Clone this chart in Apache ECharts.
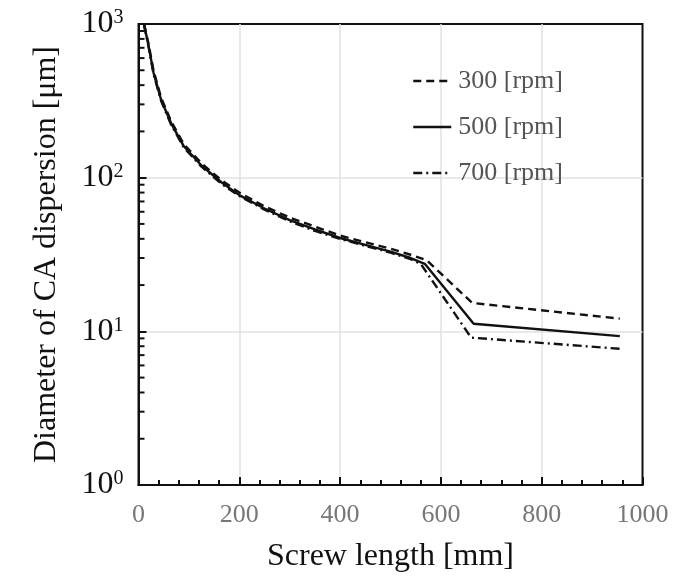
<!DOCTYPE html>
<html>
<head>
<meta charset="utf-8">
<script src="https://cdn.jsdelivr.net/npm/echarts@6/dist/echarts.min.js"></script>
<style>
  html, body { margin: 0; padding: 0; background: #fff; }
  #chart { width: 677px; height: 578px; }
</style>
</head>
<body>
<div id="chart"></div>
<script>
// screw length [mm] and CA diameter [um]
const x300 = [11, 20, 30, 45, 65, 90, 125, 165, 200, 250, 300, 350, 400, 450, 500, 540, 572, 662, 955]
const y300 = [1000, 740, 495, 330, 232, 165, 124, 96, 80, 65, 55, 48, 42, 38, 34.5, 31.5, 29, 15.3, 12.1]
const x500 = [11, 20, 30, 45, 65, 90, 125, 165, 200, 250, 300, 350, 400, 450, 500, 540, 568, 665, 955]
const y500 = [1000, 720, 480, 320, 225, 160, 120, 93, 77, 63, 53, 46, 40.5, 36.5, 33, 30, 27.5, 11.2, 9.3]
const x700 = [11, 20, 30, 45, 65, 90, 125, 165, 200, 250, 300, 350, 400, 450, 500, 540, 560, 660, 955]
const y700 = [980, 710, 470, 315, 220, 157, 118, 91, 76, 62, 52, 45, 40, 36, 32.5, 29.5, 27.5, 9.1, 7.7]

const seriesNames = ['300 [rpm]', '500 [rpm]', '700 [rpm]']
const yMinorTicks = [2, 3, 4, 5, 6, 7, 8, 9, 20, 30, 40, 50, 60, 70, 80, 90, 200, 300, 400, 500, 600, 700, 800, 900]

const font = 'Liberation Serif'
const zip = (xs, ys) => xs.map((x, i) => [x, ys[i]])

let myChart = echarts.init(document.getElementById('chart'))
let option = {
  animation: false,
  textStyle: { fontFamily: font },
  grid: {
    left: 138.5,
    right: 34.5,
    top: 24,
    bottom: 91,
    show: true,
    borderColor: '#111',
    borderWidth: 2
  },
  legend: {
    orient: 'vertical',
    left: 407,
    top: 63,
    itemWidth: 38,
    itemHeight: 14,
    itemGap: 20,
    data: seriesNames,
    itemStyle: { opacity: 0 },
    lineStyle: { width: 2.5 },
    textStyle: { fontFamily: font, fontSize: 26, color: '#555', padding: [0, 0, 0, 2] }
  },
  xAxis: {
    type: 'value',
    min: 0,
    max: 1000,
    interval: 200,
    name: 'Screw length [mm]',
    nameLocation: 'middle',
    nameGap: 56,
    nameTextStyle: { fontFamily: font, fontSize: 32, color: '#111' },
    axisLine: { lineStyle: { color: '#111', width: 2 } },
    axisTick: { inside: true, length: 8, lineStyle: { color: '#111', width: 2 } },
    minorTick: { show: true, splitNumber: 5, length: 5, lineStyle: { color: '#111', width: 2 } },
    axisLabel: {
      fontFamily: font, fontSize: 26, color: '#777', margin: 17,
      formatter: v => String(v)
    },
    splitLine: { show: true, showMinLine: false, showMaxLine: false, lineStyle: { color: '#e2e2e2', width: 1.5 } }
  },
  yAxis: {
    type: 'log',
    logBase: 10,
    min: 1,
    max: 1000,
    name: 'Diameter of CA dispersion [μm]',
    nameLocation: 'middle',
    nameGap: 76,
    nameTextStyle: { fontFamily: font, fontSize: 32, color: '#111' },
    axisLine: { lineStyle: { color: '#111', width: 2 } },
    axisTick: { inside: true, length: 8, lineStyle: { color: '#111', width: 2 } },
    axisLabel: {
      margin: 15,
      formatter: function (v) {
        return '{b|10}{s|' + Math.round(Math.log10(v)) + '}'
      },
      rich: {
        b: { fontFamily: font, fontSize: 32, color: '#111', lineHeight: 32 },
        s: { fontFamily: font, fontSize: 20, color: '#111', verticalAlign: 'top', lineHeight: 32 }
      }
    },
    splitLine: { show: true, showMinLine: false, showMaxLine: false, lineStyle: { color: '#e2e2e2', width: 1.5 } }
  },
  series: [
    {
      name: seriesNames[0],
      type: 'line',
      data: zip(x300, y300),
      symbol: 'none',
      lineStyle: { color: '#111', width: 2.4, type: [8, 5] },
      itemStyle: { color: '#111' }
    },
    {
      name: seriesNames[1],
      type: 'line',
      data: zip(x500, y500),
      symbol: 'none',
      lineStyle: { color: '#111', width: 2.4, type: 'solid' },
      itemStyle: { color: '#111' }
    },
    {
      name: seriesNames[2],
      type: 'line',
      data: zip(x700, y700),
      symbol: 'none',
      lineStyle: { color: '#111', width: 2.4, type: [9, 4, 2, 4] },
      itemStyle: { color: '#111' }
    },
    {
      // minor ticks of the log axis at 2..9 of each decade
      type: 'custom',
      silent: true,
      clip: false,
      data: yMinorTicks.map(v => [0, v]),
      renderItem: function (params, api) {
        const p = api.coord([0, api.value(1)])
        return {
          type: 'line',
          shape: { x1: p[0], y1: p[1], x2: p[0] + 6, y2: p[1] },
          style: { stroke: '#111', lineWidth: 2 }
        }
      }
    }
  ]
}
myChart.setOption(option)
</script>
</body>
</html>
